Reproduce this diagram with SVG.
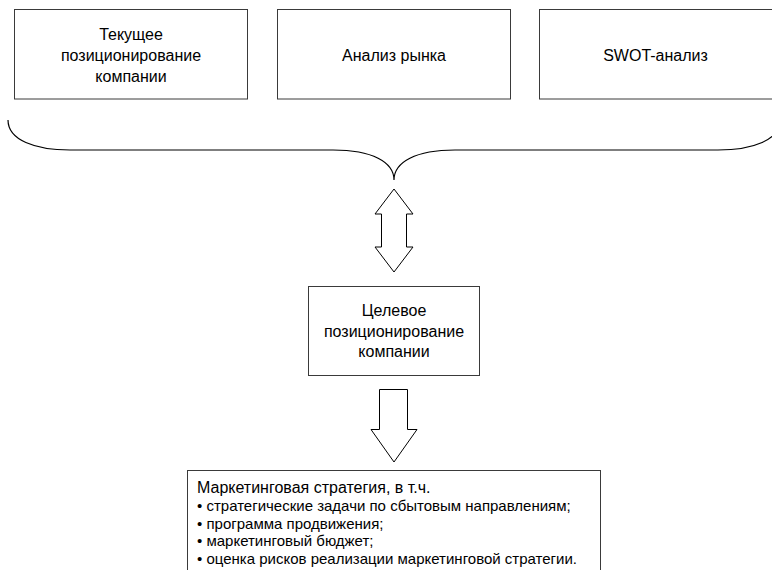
<svg xmlns="http://www.w3.org/2000/svg" width="772" height="570" viewBox="0 0 772 570">
  <style>
    .box { fill: #ffffff; stroke: #3a3a3a; stroke-width: 1; }
    .lbl { font-family: "Liberation Sans", Arial, sans-serif; font-size: 16px; fill: #000000; text-anchor: middle; }
    .txt { font-family: "Liberation Sans", Arial, sans-serif; fill: #000000; }
    .arrow { fill: #ffffff; stroke: #000000; stroke-width: 1; stroke-linejoin: miter; }
    .brace { fill: none; stroke: #000000; stroke-width: 1.2; }
  </style>
  <rect width="772" height="570" fill="#ffffff"/>

  <g id="current-positioning">
    <rect class="box" x="14.5" y="9.5" width="233" height="89.5"/>
    <text class="lbl" x="131" y="40">Текущее</text>
    <text class="lbl" x="131" y="61">позиционирование</text>
    <text class="lbl" x="131" y="82">компании</text>
  </g>

  <g id="market-analysis">
    <rect class="box" x="277.5" y="9.5" width="233" height="89.5"/>
    <text class="lbl" x="394" y="61">Анализ рынка</text>
  </g>

  <g id="swot-analysis">
    <rect class="box" x="539.5" y="9.5" width="240" height="89.5"/>
    <text class="lbl" x="655.5" y="61">SWOT-анализ</text>
  </g>

  <g id="target-positioning">
    <rect class="box" x="308.5" y="286.5" width="171" height="89"/>
    <text class="lbl" x="394" y="316">Целевое</text>
    <text class="lbl" x="394" y="337">позиционирование</text>
    <text class="lbl" x="394" y="357">компании</text>
  </g>

  <g id="marketing-strategy">
    <rect class="box" x="187.5" y="470.5" width="413" height="110"/>
    <text class="txt" x="197" y="493" font-size="16">Маркетинговая стратегия, в т.ч.</text>
    <text class="txt" x="197" y="511" font-size="15">• стратегические задачи по сбытовым направлениям;</text>
    <text class="txt" x="197" y="528.5" font-size="15">• программа продвижения;</text>
    <text class="txt" x="197" y="546" font-size="15">• маркетинговый бюджет;</text>
    <text class="txt" x="197" y="563.5" font-size="15">• оценка рисков реализации маркетинговой стратегии.</text>
  </g>

  <g id="connectors">
    <!-- curly brace gathering the three analyses -->
    <path class="brace" d="M8,120 C8,140 35,150 70,150 L333,150 C372,150 394,162 394,180 C394,162 416,150 455,150 L718,150 C753,150 780,140 780,120"/>
    <!-- two-way block arrow -->
    <polygon class="arrow" points="394,189 413,214 406.5,214 406.5,247 413,247 394,272 375,247 381.5,247 381.5,214 375,214"/>
    <!-- one-way block arrow down -->
    <polygon class="arrow" points="379.5,389.5 407.5,389.5 407.5,429.5 417,429.5 394,462 371,429.5 379.5,429.5"/>
  </g>
</svg>
